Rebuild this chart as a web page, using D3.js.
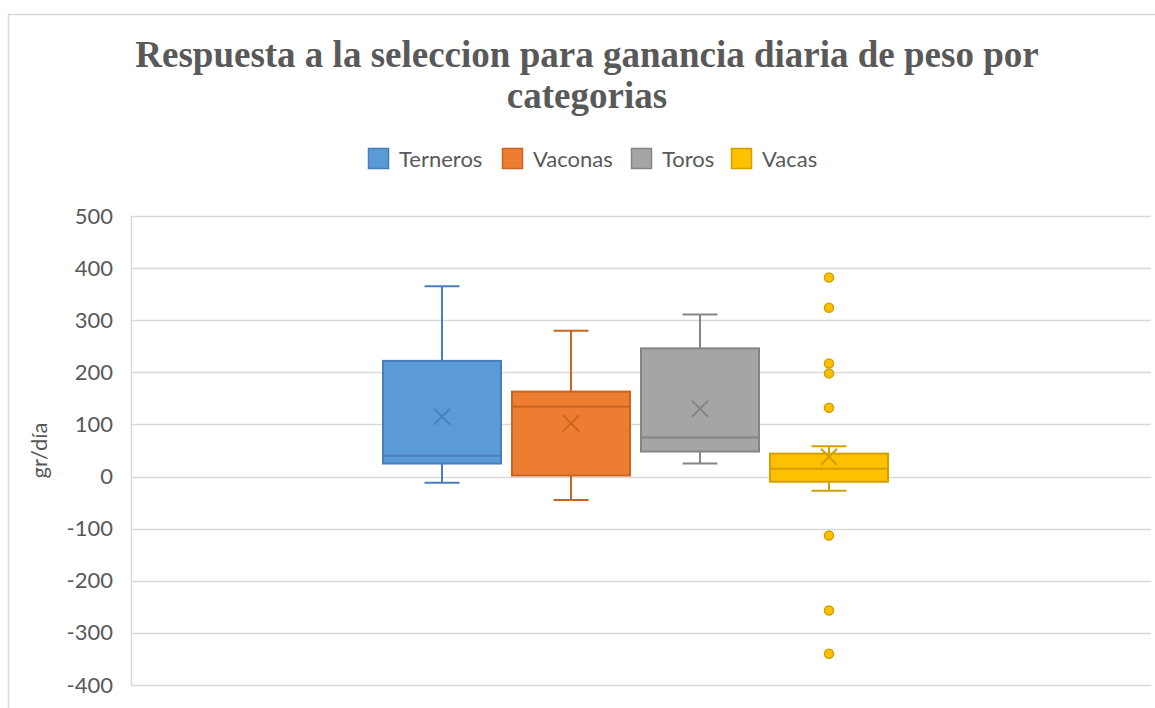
<!DOCTYPE html>
<html>
<head>
<meta charset="utf-8">
<script src="https://cdn.jsdelivr.net/npm/d3@7"></script>
<style>
  body { margin: 0; background: #fff; }
  svg { display: block; }
</style>
</head>
<body>
<svg width="1155" height="708"></svg>
<script>
// Data (gr/día)
const series = ["Terneros", "Vaconas", "Toros", "Vacas"];
const whiskerLow = [-12, -45, 25, -27];
const q1 = [25, 2, 48, -10];
const median = [40, 134, 75, 15];
const q3 = [222, 163, 246, 44];
const whiskerHigh = [365, 280, 311, 58];
const means = [115, 102, 130, 38];
const outliersVacas = [382, 324, 217, 198, 132, -113, -257, -340];
const yTicks = [500, 400, 300, 200, 100, 0, -100, -200, -300, -400];

const fills = ["#5B9BD5", "#ED7D31", "#A5A5A5", "#FFC000"];
const strokes = ["#4A7EBB", "#C8651E", "#858585", "#D4A000"];

const svg = d3.select("svg"),
  width = +svg.attr("width"),
  height = +svg.attr("height");

const sans = "Lato, 'Open Sans', sans-serif";

// chart frame
svg.append("rect")
  .attr("x", 8.5).attr("y", 14.5)
  .attr("width", 1170).attr("height", 720)
  .attr("fill", "#fff")
  .attr("stroke", "#d9d9d9")
  .attr("stroke-width", 1.5);

// plot area
const plot = { left: 131, right: 1151, top: 216, bottom: 685 };

const y = d3.scaleLinear()
  .domain([-400, 500])
  .range([plot.bottom, plot.top]);

const x = d3.scaleBand()
  .domain(series)
  .range([383, 888])
  .paddingInner(0.085)
  .paddingOuter(0);

// Title
svg.append("text")
  .attr("text-anchor", "middle")
  .style("font-family", "'Liberation Serif', 'Times New Roman', serif")
  .style("font-weight", "bold")
  .style("font-size", "37px")
  .attr("fill", "#595959")
  .selectAll("tspan")
  .data(["Respuesta a la seleccion para ganancia diaria de peso por", "categorias"])
  .join("tspan")
  .attr("x", 587)
  .attr("y", (d, i) => 67 + i * 41)
  .text(d => d);

// Legend
const legendX = [368, 502, 631, 731];
const legend = svg.append("g");
series.forEach((s, i) => {
  legend.append("rect")
    .attr("x", legendX[i] + 0.5).attr("y", 148.5)
    .attr("width", 20).attr("height", 20)
    .attr("fill", fills[i])
    .attr("stroke", strokes[i])
    .attr("stroke-width", 1.5);
  legend.append("text")
    .attr("x", legendX[i] + 31)
    .attr("y", 159)
    .attr("dy", "0.35em")
    .style("font-family", sans)
    .style("font-size", "22px")
    .attr("fill", "#595959")
    .text(s);
});

// gridlines
svg.append("g")
  .selectAll("line")
  .data(yTicks)
  .join("line")
  .attr("x1", plot.left)
  .attr("x2", plot.right)
  .attr("y1", d => Math.round(y(d)) + 0.5)
  .attr("y2", d => Math.round(y(d)) + 0.5)
  .attr("stroke", "#d9d9d9")
  .attr("stroke-width", 1.5);

// left axis line
svg.append("line")
  .attr("x1", plot.left + 0.5).attr("x2", plot.left + 0.5)
  .attr("y1", plot.top).attr("y2", plot.bottom)
  .attr("stroke", "#d9d9d9")
  .attr("stroke-width", 1.5);

// Y axis
const yAxis = svg.append("g")
  .attr("transform", `translate(${plot.left},0)`)
  .call(d3.axisLeft(y).tickValues(yTicks).tickFormat(d => String(d)).tickSize(0).tickPadding(18));
yAxis.select(".domain").remove();
yAxis.selectAll("text")
  .style("font-family", sans)
  .style("font-size", "22px")
  .attr("fill", "#595959");

// Y axis title
svg.append("text")
  .attr("transform", `translate(47,${(plot.top + plot.bottom) / 2}) rotate(-90)`)
  .attr("text-anchor", "middle")
  .style("font-family", sans)
  .style("font-size", "22px")
  .attr("fill", "#595959")
  .text("gr/día");

// Boxes
const capW = 35;
const boxes = svg.append("g")
  .selectAll("g")
  .data(series)
  .join("g");

boxes.each(function (s, i) {
  const g = d3.select(this);
  const x0 = x(s), bw = x.bandwidth(), cx = x0 + bw / 2;
  // whiskers
  g.append("line")
    .attr("x1", cx).attr("x2", cx)
    .attr("y1", y(whiskerHigh[i])).attr("y2", y(q3[i]))
    .attr("stroke", strokes[i]).attr("stroke-width", 2);
  g.append("line")
    .attr("x1", cx).attr("x2", cx)
    .attr("y1", y(q1[i])).attr("y2", y(whiskerLow[i]))
    .attr("stroke", strokes[i]).attr("stroke-width", 2);
  [whiskerHigh[i], whiskerLow[i]].forEach(v => {
    g.append("line")
      .attr("x1", cx - capW / 2).attr("x2", cx + capW / 2)
      .attr("y1", y(v)).attr("y2", y(v))
      .attr("stroke", strokes[i]).attr("stroke-width", 2);
  });
  // box
  g.append("rect")
    .attr("x", x0).attr("y", y(q3[i]))
    .attr("width", bw).attr("height", y(q1[i]) - y(q3[i]))
    .attr("fill", fills[i])
    .attr("stroke", strokes[i]).attr("stroke-width", 2);
  // median
  g.append("line")
    .attr("x1", x0).attr("x2", x0 + bw)
    .attr("y1", y(median[i])).attr("y2", y(median[i]))
    .attr("stroke", strokes[i]).attr("stroke-width", 2);
  // mean marker (x)
  const my = y(means[i]), m = 8;
  g.append("path")
    .attr("d", `M${cx - m},${my - m}L${cx + m},${my + m}M${cx - m},${my + m}L${cx + m},${my - m}`)
    .attr("stroke", strokes[i]).attr("stroke-width", 2)
    .attr("fill", "none");
});

// Outliers for Vacas
svg.append("g")
  .selectAll("circle")
  .data(outliersVacas)
  .join("circle")
  .attr("cx", x("Vacas") + x.bandwidth() / 2)
  .attr("cy", d => y(d))
  .attr("r", 4.5)
  .attr("fill", fills[3])
  .attr("stroke", strokes[3])
  .attr("stroke-width", 1.5);
</script>
</body>
</html>
